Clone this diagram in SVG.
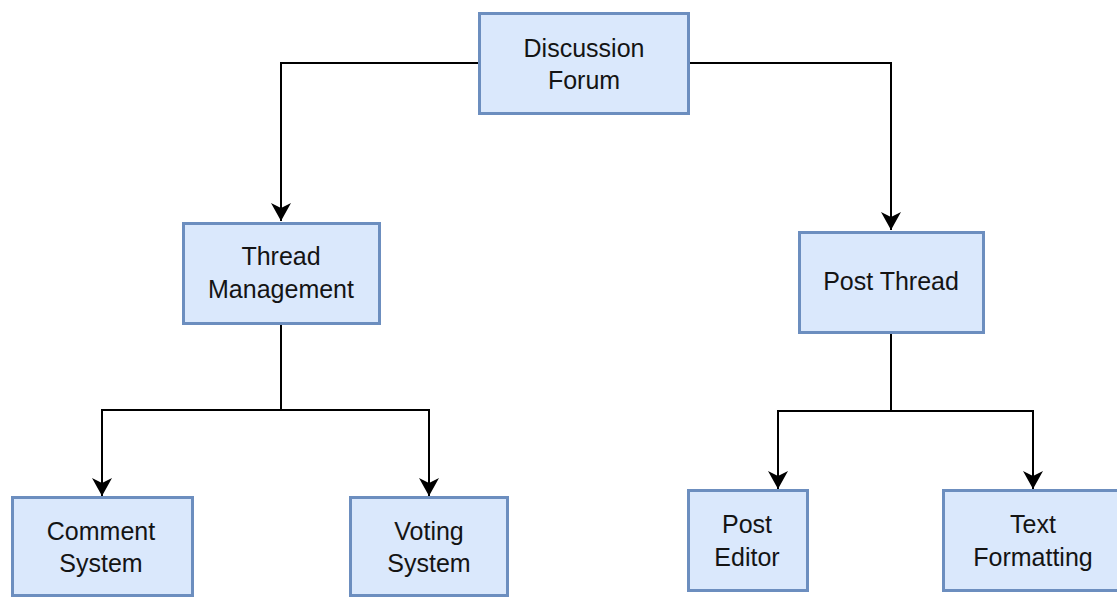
<svg xmlns="http://www.w3.org/2000/svg" width="1117" height="598" viewBox="0 0 1117 598">
  <style>
    .box { fill: #dae8fc; stroke: #6c8ebf; stroke-width: 3; }
    .label { font-family: "Liberation Sans", Arial, sans-serif; font-size: 25px; fill: #141414; text-anchor: middle; }
    .edge { fill: none; stroke: #000; stroke-width: 2; marker-end: url(#arrow); }
  </style>
  <defs>
    <marker id="arrow" viewBox="0 0 18 20" refX="18" refY="10" markerWidth="18" markerHeight="20" markerUnits="userSpaceOnUse" orient="auto">
      <path d="M18,10 L0,0 L5,10 L0,20 Z" fill="#000"/>
    </marker>
  </defs>
  <rect width="1117" height="598" fill="#fff"/>

  <g id="connectors">
    <path class="edge" d="M479,63 H281 V221"/>
    <path class="edge" d="M689,63 H891 V230"/>
    <path class="edge" d="M281,325 V410 H102 V496"/>
    <path class="edge" d="M281,410 H429 V496"/>
    <path class="edge" d="M891,333 V411 H778 V489"/>
    <path class="edge" d="M891,411 H1033 V489"/>
  </g>

  <g id="discussion-forum">
    <rect class="box" x="479.5" y="13.5" width="209" height="100"/>
    <text class="label" x="584" y="57">Discussion</text>
    <text class="label" x="584" y="89">Forum</text>
  </g>

  <g id="thread-management">
    <rect class="box" x="183.5" y="223.5" width="196" height="100"/>
    <text class="label" x="281" y="265">Thread</text>
    <text class="label" x="281" y="298">Management</text>
  </g>

  <g id="post-thread">
    <rect class="box" x="799.5" y="232.5" width="184" height="100"/>
    <text class="label" x="891" y="290">Post Thread</text>
  </g>

  <g id="comment-system">
    <rect class="box" x="12.5" y="497.5" width="180" height="98"/>
    <text class="label" x="101" y="540">Comment</text>
    <text class="label" x="101" y="572">System</text>
  </g>

  <g id="voting-system">
    <rect class="box" x="350.5" y="497.5" width="157" height="98"/>
    <text class="label" x="429" y="540">Voting</text>
    <text class="label" x="429" y="572">System</text>
  </g>

  <g id="post-editor">
    <rect class="box" x="688.5" y="490.5" width="119" height="100"/>
    <text class="label" x="747" y="533">Post</text>
    <text class="label" x="747" y="566">Editor</text>
  </g>

  <g id="text-formatting">
    <rect class="box" x="943.5" y="490.5" width="200" height="100"/>
    <text class="label" x="1033" y="533">Text</text>
    <text class="label" x="1033" y="566">Formatting</text>
  </g>
</svg>
